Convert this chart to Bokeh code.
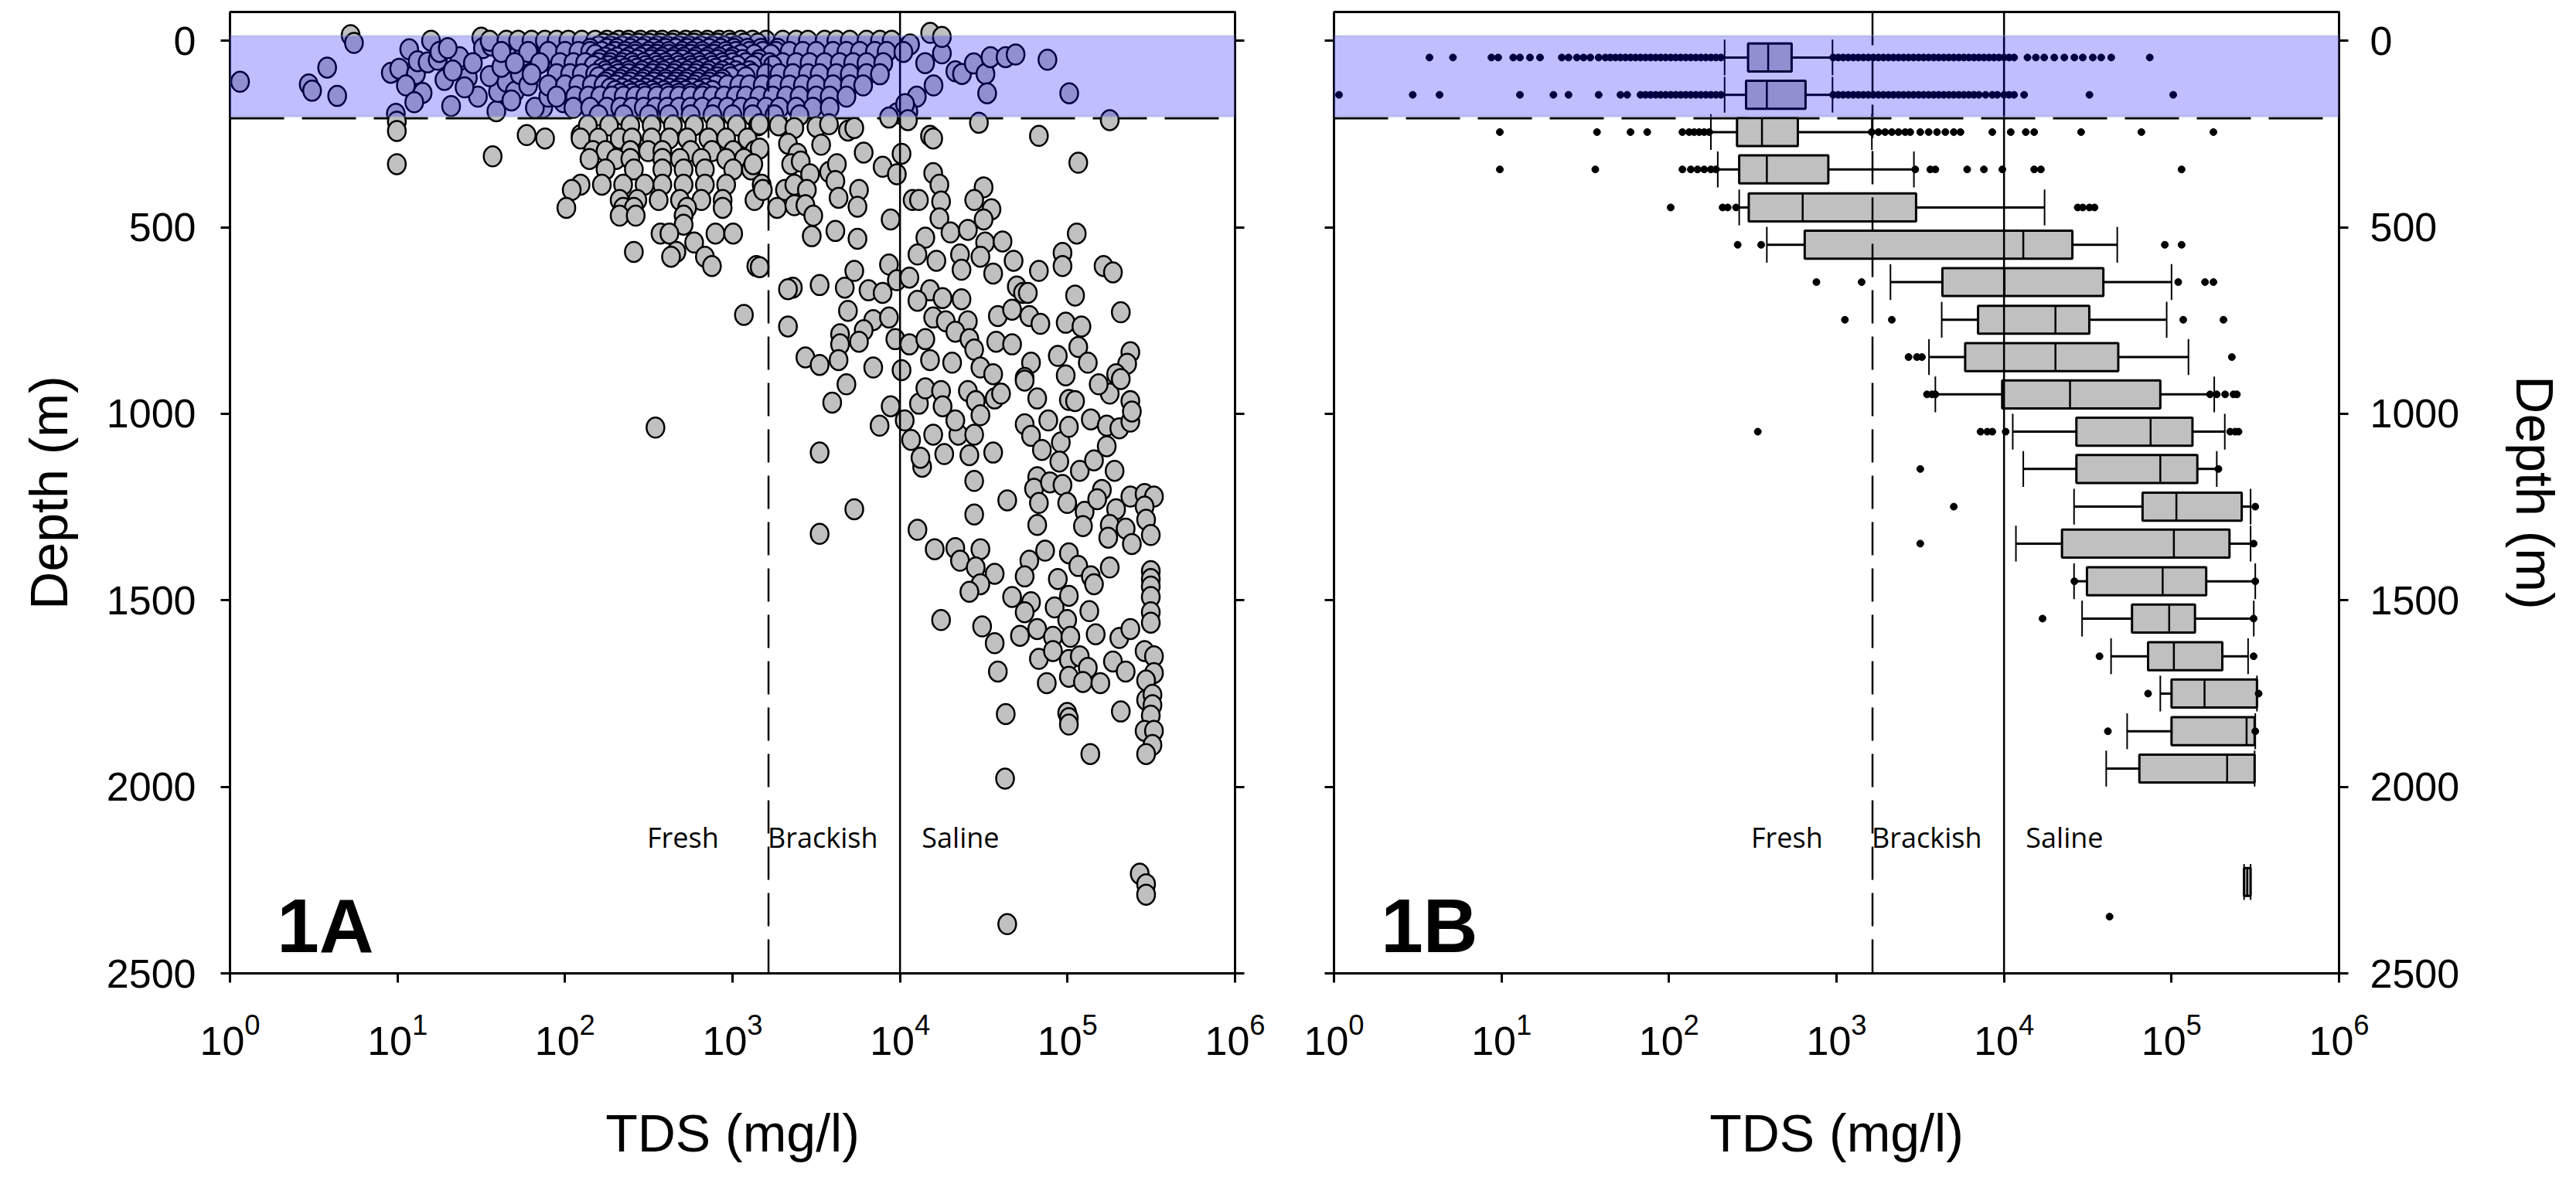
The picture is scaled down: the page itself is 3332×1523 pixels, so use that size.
from bokeh.plotting import figure
from bokeh.models import Range1d, FixedTicker, LinearAxis, Span, BoxAnnotation, Label
from bokeh.layouts import row
from bokeh.embed import file_html
from bokeh.resources import INLINE
from bokeh.core.properties import value

# ---------------- data ----------------
depth_ticks = [0, 500, 1000, 1500, 2000, 2500]
tds_ticks = [1, 10, 100, 1000, 10000, 100000, 1000000]
class_labels = ["Fresh", "Brackish", "Saline"]
class_label_log_tds = [2.49, 3.21, 4.13]
class_label_depth = 2135
brackish_limit = 1640      # mg/l
saline_limit = 10000       # mg/l
band_top, band_bottom = -13, 203
band_edge_depth = 208
panel_labels = ["1A", "1B"]

# --- Fig 1A: individual wells, (log10 TDS, depth m) ---
wells_band_sparse = [
    (0.06, 110), (0.47, 117), (0.49, 134), (0.58, 72), (0.64, 148), (0.72, -15), (0.74, 6),
    (0.96, 86), (1.01, 75), (1.07, 23), (1.11, 89), (1.12, 55), (1.18, 58), (1.20, 0),
    (1.24, 51), (1.25, 30), (0.99, 196), (1.32, 175), (1.37, 44), (1.42, 99), (1.50, -8),
    (1.51, 20), (1.56, 13), (1.59, 189), (1.60, 137), (1.65, 110), (1.70, 137), (1.67, 20),
    (1.73, 89), (1.79, 13), (1.84, 55), (1.87, 179), (1.92, 6), (1.99, 165), (2.01, 96),
    (1.05, 120), (1.15, 140), (1.28, 105), (1.33, 80), (1.45, 60), (1.48, 150), (1.55, 95),
    (1.62, 70), (1.68, 160), (1.75, 40), (1.78, 120), (1.82, 180), (1.90, 150), (1.95, 75),
    (1.40, 125), (1.30, 20), (1.10, 165),
    (4.18, -21), (4.25, 34), (4.33, 82), (4.37, 89), (4.44, 61), (4.51, 89), (4.54, 44),
    (4.63, 44), (4.69, 37), (4.88, 51), (4.52, 141), (5.01, 141), (4.10, 150), (4.05, 190),
    (4.20, 120), (4.15, 60), (4.06, 10), (4.25, -10), (3.98, 195), (4.03, 170),
]
band_row_depth = [0, 8, 15, 22, 30, 38, 45, 52, 60, 68, 75, 82, 90, 98, 105, 112, 120, 128,
                  135, 142, 150, 180, 200]
band_row_log_tds = [
    [1.55, 1.65, 1.72, 1.80, 1.88, 1.95, 2.02, 2.10, 2.18, 2.25, 2.32, 2.38, 2.45, 2.52, 2.58, 2.65,
     2.72, 2.78, 2.85, 2.92, 2.98, 3.05, 3.12, 3.20, 3.30, 3.38, 3.45, 3.55, 3.62, 3.70, 3.80, 3.88, 3.95],
    [2.23, 2.29, 2.37, 2.44, 2.50, 2.57, 2.64, 2.70, 2.77, 2.84, 2.91, 2.99, 3.07, 3.15],
    [2.20, 2.27, 2.34, 2.41, 2.48, 2.55, 2.61, 2.68, 2.74, 2.81, 2.88, 2.95, 3.02],
    [2.15, 2.25, 2.31, 2.39, 2.46, 2.53, 2.60, 2.66, 2.73, 2.79, 2.86, 2.93, 3.01, 3.09, 3.17, 3.27],
    [1.62, 1.78, 1.90, 2.00, 2.08, 2.15, 2.22, 2.30, 2.36, 2.42, 2.50, 2.56, 2.62, 2.70, 2.76, 2.82,
     2.90, 2.96, 3.02, 3.10, 3.18, 3.26, 3.34, 3.42, 3.50, 3.60, 3.68, 3.76, 3.85, 3.92, 4.02],
    [2.18, 2.27, 2.35, 2.42, 2.49, 2.55, 2.62, 2.69, 2.75, 2.82, 2.89, 2.97, 3.05, 3.13, 3.23],
    [2.24, 2.31, 2.38, 2.45, 2.52, 2.58, 2.65, 2.71, 2.78, 2.85, 2.92, 3.00],
    [2.21, 2.28, 2.36, 2.43, 2.51, 2.57, 2.64, 2.70, 2.77, 2.84, 2.91, 2.99, 3.06, 3.16],
    [1.70, 1.85, 1.97, 2.05, 2.12, 2.20, 2.27, 2.34, 2.40, 2.47, 2.54, 2.60, 2.67, 2.74, 2.80, 2.87,
     2.94, 3.00, 3.08, 3.15, 3.22, 3.30, 3.38, 3.46, 3.55, 3.64, 3.72, 3.80, 3.90],
    [2.17, 2.26, 2.33, 2.41, 2.48, 2.55, 2.61, 2.68, 2.75, 2.81, 2.88, 2.95, 3.03, 3.12, 3.24],
    [2.22, 2.29, 2.36, 2.43, 2.50, 2.57, 2.63, 2.70, 2.76, 2.83, 2.90, 2.98],
    [2.24, 2.31, 2.38, 2.46, 2.53, 2.59, 2.66, 2.73, 2.79, 2.86, 2.94, 3.02, 3.10],
    [1.80, 1.95, 2.03, 2.10, 2.18, 2.25, 2.32, 2.38, 2.45, 2.52, 2.58, 2.65, 2.72, 2.78, 2.85, 2.92,
     2.98, 3.05, 3.12, 3.20, 3.28, 3.36, 3.45, 3.52, 3.62, 3.70, 3.80, 3.88],
    [2.20, 2.28, 2.35, 2.42, 2.49, 2.56, 2.63, 2.69, 2.76, 2.83, 2.91, 2.99, 3.08],
    [2.26, 2.33, 2.40, 2.47, 2.54, 2.60, 2.67, 2.73, 2.80, 2.87, 2.94],
    [2.24, 2.32, 2.39, 2.46, 2.53, 2.60, 2.66, 2.72, 2.79, 2.86, 2.93],
    [1.90, 2.00, 2.08, 2.16, 2.23, 2.30, 2.37, 2.44, 2.50, 2.57, 2.64, 2.70, 2.77, 2.84, 2.90, 2.97,
     3.04, 3.10, 3.18, 3.26, 3.34, 3.42, 3.50, 3.60, 3.70, 3.78],
    [2.27, 2.34, 2.41, 2.48, 2.55, 2.62, 2.69, 2.76, 2.84],
    [2.30, 2.38, 2.45, 2.52, 2.59, 2.66, 2.72, 2.80, 2.88],
    [2.33, 2.40, 2.47, 2.54, 2.61, 2.68, 2.75, 2.83],
    [1.95, 2.06, 2.14, 2.21, 2.28, 2.35, 2.42, 2.48, 2.55, 2.62, 2.68, 2.75, 2.82, 2.88, 2.95, 3.02,
     3.08, 3.16, 3.24, 3.32, 3.40, 3.50, 3.58, 3.68],
    [2.05, 2.15, 2.25, 2.33, 2.40, 2.47, 2.54, 2.61, 2.68, 2.75, 2.82, 2.90, 2.97, 3.05, 3.12, 3.20,
     3.28, 3.38, 3.48, 3.58],
    [2.20, 2.35, 2.50, 2.62, 2.75, 2.88, 3.00, 3.12, 3.25, 3.40],
]
wells_fresh_cluster = [
    (0.996, 217), (0.996, 242), (0.996, 331), (1.771, 253), (1.881, 262), (1.568, 310), (2.093, 253),
    (2.136, 227), (2.263, 227), (2.390, 227), (2.517, 227), (2.644, 227), (2.771, 227), (2.898, 227),
    (3.025, 227), (3.153, 227),
    (2.093, 262), (2.199, 262), (2.326, 262), (2.400, 262), (2.517, 262), (2.623, 262), (2.729, 262),
    (2.856, 262), (2.962, 262), (3.089, 262),
    (2.167, 296), (2.242, 296), (2.390, 296), (2.496, 296), (2.581, 296), (2.750, 296), (2.877, 296),
    (3.004, 296), (3.131, 296),
    (2.146, 317), (2.305, 317), (2.390, 317), (2.581, 317), (2.686, 317), (2.814, 317), (2.962, 317),
    (3.068, 317),
    (2.242, 345), (2.411, 345), (2.581, 345), (2.708, 345), (2.835, 345), (3.004, 345), (3.110, 345),
    (2.093, 386), (2.220, 386), (2.347, 386), (2.475, 386), (2.581, 386), (2.708, 386), (2.835, 386),
    (2.962, 386), (3.174, 386), (2.040, 400),
    (2.326, 427), (2.432, 427), (2.559, 427), (2.686, 427), (2.814, 427), (2.941, 427), (3.131, 427),
    (2.008, 448), (2.347, 448), (2.411, 448), (2.729, 448), (2.941, 448),
    (2.326, 469), (2.422, 469), (2.708, 469), (2.708, 493),
    (2.570, 517), (2.623, 517), (2.898, 517), (3.004, 517), (2.771, 541), (2.411, 566), (2.665, 566),
    (2.633, 579), (2.835, 579), (2.877, 604), (3.142, 604), (3.068, 735), (2.54, 1037),
]
wells_upper_brackish_saline = [
    (3.162, 224), (3.275, 227), (3.369, 234), (3.501, 231), (3.576, 224), (3.689, 241), (3.727, 234),
    (3.934, 206), (4.047, 213), (4.179, 255), (4.198, 262), (4.471, 220), (4.829, 255), (5.252, 213),
    (5.064, 327), (3.162, 289), (3.124, 331), (3.331, 276), (3.388, 303), (3.529, 279), (3.350, 331),
    (3.407, 324), (3.463, 358), (3.576, 352), (3.623, 331), (3.614, 376), (3.783, 300), (3.896, 338),
    (3.981, 358), (4.009, 303), (3.181, 400), (3.313, 400), (3.369, 386), (3.444, 400), (3.266, 448),
    (3.369, 441), (3.435, 441), (3.482, 469), (3.633, 421), (3.755, 400), (3.746, 445), (3.944, 479),
    (4.075, 427), (4.113, 427), (4.198, 355), (4.235, 386), (4.245, 431), (4.235, 476), (4.499, 393),
    (4.443, 427), (4.546, 452), (4.499, 479), (3.473, 524), (3.614, 510), (3.746, 531), (4.151, 528),
    (4.301, 514), (4.405, 507), (4.508, 541), (4.612, 538), (4.104, 573), (4.217, 590), (4.358, 573),
    (4.480, 579), (4.367, 614), (4.556, 624), (4.678, 590), (4.829, 617), (4.970, 569), (4.970, 604),
    (5.055, 517), (5.215, 604), (5.271, 621), (3.162, 607), (3.360, 662), (3.331, 666), (3.520, 655),
    (3.670, 662), (3.727, 617), (3.812, 669), (3.896, 676), (3.934, 600), (3.981, 642), (4.056, 635),
    (4.179, 669), (4.254, 690), (4.367, 693), (4.104, 697), (4.697, 659), (4.734, 676), (4.763, 676),
    (5.045, 683), (5.318, 728), (3.331, 766), (3.689, 724), (3.840, 749), (3.934, 742), (3.783, 776),
    (3.642, 787), (3.642, 814), (3.755, 807), (3.972, 800), (4.056, 814), (4.151, 800), (4.198, 742),
    (4.273, 752), (4.405, 752), (4.330, 780), (4.414, 800), (4.584, 738), (4.669, 721), (4.772, 738),
    (4.838, 759), (4.989, 756), (5.083, 766), (4.443, 828), (4.574, 807), (4.669, 814), (4.782, 863),
    (4.942, 845), (5.064, 821), (5.121, 863), (5.375, 835), (5.356, 866), (5.290, 894), (3.435, 849),
    (3.520, 869), (3.633, 856), (3.840, 876), (4.009, 883), (4.179, 856), (4.311, 863), (4.480, 876),
    (4.556, 894), (4.744, 904), (4.989, 897),
]
wells_saline_mid = [
    (3.595, 970), (3.680, 921), (3.944, 980), (3.878, 1032), (4.028, 1018), (4.066, 1070), (4.113, 973),
    (4.151, 932), (4.245, 939), (4.254, 980), (4.198, 1056), (4.348, 1056), (4.330, 1018), (4.443, 1056),
    (4.405, 939), (4.452, 966), (4.480, 1004), (4.565, 959), (4.603, 946), (4.264, 1108), (4.414, 1111),
    (4.556, 1104), (4.132, 1142), (4.122, 1118), (4.744, 911), (4.819, 959), (4.885, 1018), (5.008, 963),
    (5.045, 966), (4.744, 1028), (4.782, 1059), (4.847, 1097), (4.960, 1077), (5.008, 1035),
    (5.139, 1015), (5.234, 1032), (5.309, 1039), (5.375, 966), (5.375, 1021), (5.384, 994),
    (5.252, 946), (5.318, 907), (5.186, 921), (4.951, 1128), (5.073, 1153), (5.281, 1153),
    (5.158, 1125), (5.234, 1087), (3.520, 1104), (3.727, 1256), (3.520, 1322), (4.443, 1180),
    (4.640, 1232), (4.443, 1270), (4.104, 1311), (4.207, 1363), (4.330, 1360), (4.480, 1363),
    (4.358, 1394), (4.452, 1412), (4.565, 1429), (4.480, 1457), (4.414, 1477), (4.819, 1170),
    (4.800, 1201), (4.895, 1184), (4.970, 1191), (4.829, 1239), (4.819, 1298), (4.998, 1239),
    (5.102, 1263), (5.092, 1301), (5.205, 1204), (5.177, 1229), (5.290, 1256), (5.252, 1298),
    (5.347, 1308), (5.375, 1222), (5.460, 1215), (5.516, 1222), (5.460, 1249), (5.469, 1284),
    (5.497, 1325), (5.384, 1349), (5.243, 1332), (4.866, 1367), (4.772, 1394), (4.744, 1436),
    (4.942, 1443), (5.008, 1374), (5.064, 1408), (5.139, 1436), (5.158, 1457), (5.252, 1412),
    (5.497, 1422), (5.497, 1443), (5.497, 1463), (5.497, 1491), (5.497, 1532), (5.497, 1560),
]
wells_saline_deep = [
    (4.669, 1491), (4.782, 1505), (4.744, 1532), (4.923, 1519), (5.008, 1488), (4.998, 1553),
    (5.130, 1529), (4.490, 1570), (4.565, 1615), (4.716, 1595), (4.819, 1577), (4.913, 1598),
    (5.017, 1598), (5.168, 1591), (5.309, 1601), (5.375, 1577), (4.245, 1553), (4.829, 1657),
    (4.913, 1636), (5.008, 1660), (5.073, 1650), (5.121, 1681), (4.876, 1722), (5.008, 1705),
    (5.092, 1719), (5.196, 1722), (5.271, 1664), (5.347, 1691), (5.460, 1636), (5.516, 1650),
    (5.516, 1695), (5.469, 1715), (4.584, 1691), (4.631, 1805), (4.998, 1802), (5.008, 1816),
    (5.008, 1833), (5.318, 1798), (5.469, 1767), (5.507, 1753), (5.507, 1781), (5.497, 1809),
    (5.460, 1850), (5.516, 1850), (5.507, 1888), (5.469, 1912), (5.136, 1912), (4.627, 1978),
    (5.431, 2233), (5.469, 2261), (5.469, 2289), (4.640, 2368),
]

# --- Fig 1B: box plots per 100 m depth bin (log10 TDS) ---
box_depth = [45, 145, 245, 345, 447, 547, 647, 748, 848, 948, 1048, 1148, 1249, 1348, 1449,
             1549, 1650, 1750, 1851, 1951, 2255]
box_whisker_low = [2.332, 2.332, 2.250, 2.291, 2.419, 2.584, 3.322, 3.628, 3.552, 3.590, 4.052,
                   4.115, 4.418, 4.071, 4.418, 4.466, 4.639, 4.933, 4.735, 4.610, 5.433]
box_q1 = [2.472, 2.460, 2.406, 2.419, 2.476, 2.810, 3.632, 3.845, 3.768, 3.989, 4.432, 4.432,
          4.827, 4.346, 4.495, 4.764, 4.860, 5.000, 5.000, 4.808, 5.433]
box_median = [2.592, 2.584, 2.555, 2.584, 2.798, 4.115, 4.003, 4.307, 4.307, 4.394, 4.875, 4.933,
              5.029, 5.014, 4.947, 4.986, 5.014, 5.197, 5.448, 5.332, 5.452]
box_q3 = [2.732, 2.815, 2.769, 2.951, 3.475, 4.408, 4.593, 4.509, 4.682, 4.933, 5.125, 5.154,
          5.419, 5.346, 5.207, 5.140, 5.303, 5.510, 5.496, 5.496, 5.472]
box_whisker_high = [2.976, 2.976, 3.211, 3.462, 4.242, 4.676, 5.000, 4.971, 5.101, 5.255, 5.318,
                    5.270, 5.472, 5.472, 5.500, 5.491, 5.457, 5.510, 5.500, 5.496, 5.472]
outlier_log_tds = [
    [0.57, 0.71, 0.94, 0.98, 1.07, 1.11, 1.17, 1.23, 1.36, 1.40, 1.45, 1.49, 1.53, 1.58,
     1.62, 1.65, 1.68, 1.71, 1.74, 1.77, 1.80, 1.83, 1.86, 1.89, 1.92, 1.95, 1.98, 2.01, 2.04, 2.07,
     2.10, 2.13, 2.16, 2.19, 2.22, 2.25, 2.28, 2.31,
     2.98, 3.01, 3.04, 3.07, 3.10, 3.13, 3.16, 3.19, 3.22, 3.25, 3.28, 3.31, 3.34, 3.37, 3.40, 3.43,
     3.46, 3.49, 3.52, 3.55, 3.58, 3.61, 3.64, 3.67, 3.70, 3.73, 3.76, 3.79, 3.82, 3.85, 3.88, 3.91,
     3.94, 3.97, 4.00, 4.03, 4.06, 4.14, 4.19, 4.24, 4.30, 4.36, 4.42, 4.47, 4.53, 4.58, 4.64, 4.87],
    [0.03, 0.47, 0.63, 1.11, 1.31, 1.40, 1.58, 1.71, 1.75,
     1.83, 1.86, 1.89, 1.92, 1.95, 1.98, 2.01, 2.04, 2.07, 2.10, 2.13, 2.16, 2.19, 2.22, 2.25, 2.28, 2.31,
     2.98, 3.01, 3.04, 3.07, 3.10, 3.13, 3.16, 3.19, 3.22, 3.25, 3.28, 3.31, 3.34, 3.37, 3.40, 3.43,
     3.46, 3.49, 3.52, 3.55, 3.58, 3.61, 3.64, 3.67, 3.70, 3.73, 3.76, 3.79, 3.82, 3.85, 3.89,
     3.93, 3.96, 4.00, 4.03, 4.06, 4.12, 4.51, 5.01],
    [0.99, 1.57, 1.77, 1.87, 2.08, 2.12, 2.15, 2.18, 2.21, 2.24,
     3.21, 3.25, 3.29, 3.33, 3.37, 3.41, 3.44, 3.50, 3.55, 3.60, 3.65, 3.70, 3.74, 3.93, 4.04, 4.13,
     4.18, 4.46, 4.82, 5.25],
    [0.99, 1.56, 2.08, 2.13, 2.17, 2.21, 2.25, 2.28, 3.47, 3.56, 3.59, 3.78, 3.88, 3.99, 4.18, 4.22, 5.06],
    [2.01, 2.32, 2.35, 2.40, 4.44, 4.47, 4.51, 4.54],
    [2.41, 2.55, 4.96, 5.06],
    [2.88, 3.15, 5.04, 5.20, 5.25],
    [3.05, 3.33, 5.07, 5.31],
    [3.43, 3.48, 3.51, 5.36],
    [3.54, 3.57, 3.59, 5.23, 5.27, 5.32, 5.37, 5.39],
    [2.53, 3.86, 3.90, 3.93, 4.01, 5.35, 5.38, 5.40],
    [3.50, 5.28],
    [3.70, 5.50],
    [3.50, 5.49],
    [4.42, 5.50],
    [4.23, 5.49],
    [4.57, 5.49],
    [4.86, 5.52],
    [4.62, 5.50],
    [],
    [],
]
extra_outlier_depth = [2348]
extra_outlier_log_tds = [4.63]

# ---------------- helpers ----------------
FONT = "Liberation Sans"
W_FRAME, H_FRAME = 1300, 1244


def style_axis(ax, show_labels=True, standoff=30):
    ax.axis_line_width = 3
    ax.axis_line_color = "black"
    ax.major_tick_line_width = 3
    ax.major_tick_line_color = "black"
    ax.major_tick_out = 12
    ax.major_tick_in = 0
    ax.minor_tick_line_color = None
    ax.major_label_text_font = FONT
    ax.axis_label_text_font = FONT
    ax.axis_label_text_font_size = "68px"
    ax.axis_label_text_font_style = "normal"
    ax.axis_label_text_color = "black"
    if show_labels:
        ax.major_label_text_color = "black"
        ax.major_label_text_font_size = "52px"
        ax.major_label_standoff = standoff
    else:
        ax.major_label_text_color = None
        ax.major_label_text_alpha = 0
        ax.major_label_text_font_size = "2px"
        ax.major_label_standoff = 0


def make_fig(left_border, right_border, y_loc):
    p = figure(x_axis_type="log", x_range=Range1d(1, 1e6), y_range=Range1d(2500, -77),
               frame_width=W_FRAME, frame_height=H_FRAME,
               min_border_left=left_border, min_border_right=right_border,
               min_border_top=15, min_border_bottom=250,
               y_axis_location=y_loc, output_backend="svg", toolbar_location=None)
    p.grid.visible = False
    p.outline_line_color = "black"
    p.outline_line_width = 3
    p.background_fill_color = "white"
    p.border_fill_color = "white"
    p.xaxis.ticker = FixedTicker(ticks=tds_ticks)
    p.yaxis.ticker = FixedTicker(ticks=depth_ticks)
    p.xaxis.axis_label = "TDS (mg/l)"
    p.yaxis.axis_label = "Depth (m)"
    for ax in p.xaxis:
        style_axis(ax, True, 40)
        ax.axis_label_standoff = 60
    other = LinearAxis(ticker=FixedTicker(ticks=depth_ticks))
    style_axis(other, False)
    p.add_layout(other, "right" if y_loc == "left" else "left")
    # horizontal dashed line under the glyphs
    p.add_layout(Span(location=band_edge_depth, dimension="width", line_color="black",
                      line_width=3, line_dash="70 23", level="underlay"))
    return p


def decorate(p, panel_label):
    p.add_layout(Span(location=brackish_limit, dimension="height", line_color="black",
                      line_width=2.5, line_dash="43 17"))
    p.add_layout(Span(location=saline_limit, dimension="height", line_color="black",
                      line_width=2.5))
    p.text(x=[10 ** v for v in class_label_log_tds], y=[class_label_depth] * 3, text=class_labels,
           text_font=value("Open Sans"), text_font_size="36px", text_color="black",
           text_align="left", text_baseline="alphabetic")
    p.add_layout(Label(x=10 ** 0.28, y=2372, text=panel_label, text_font=FONT,
                       text_font_size="98px", text_font_style="bold", text_color="black",
                       text_baseline="alphabetic"))
    p.add_layout(BoxAnnotation(top=band_top, bottom=band_bottom, fill_color="#0000FF",
                               fill_alpha=0.25, line_color="#9696C8", line_width=3))


# ---------------- Fig 1A ----------------
p1 = make_fig(297, 68, "left")
for ax in p1.yaxis:
    if ax.axis_label == "Depth (m)":
        style_axis(ax, True, 32)
        ax.axis_label_standoff = 34

xs, ys = [], []
for lg, d in wells_band_sparse:
    xs.append(10 ** lg); ys.append(d)
for d, logs in zip(band_row_depth, band_row_log_tds):
    for lg in logs:
        xs.append(10 ** lg); ys.append(d)
for group in (wells_fresh_cluster, wells_upper_brackish_saline, wells_saline_mid, wells_saline_deep):
    for lg, d in group:
        xs.append(10 ** lg); ys.append(d)

p1.ellipse(x=xs, y=ys, width=23, height=26, width_units="screen", height_units="screen",
           fill_color="#C0C0C0", line_color="black", line_width=2.5)
decorate(p1, panel_labels[0])

# ---------------- Fig 1B ----------------
p2 = make_fig(60, 285, "right")
for ax in p2.yaxis:
    if ax.axis_label == "Depth (m)":
        style_axis(ax, True, 28)
        ax.axis_label_standoff = 57

lo = [10 ** v for v in box_whisker_low]
q1 = [10 ** v for v in box_q1]
md = [10 ** v for v in box_median]
q3 = [10 ** v for v in box_q3]
hi = [10 ** v for v in box_whisker_high]
half_box, half_cap = 37.5, 48

p2.segment(x0=lo, y0=box_depth, x1=q1, y1=box_depth, line_color="black", line_width=3)
p2.segment(x0=q3, y0=box_depth, x1=hi, y1=box_depth, line_color="black", line_width=3)
p2.segment(x0=lo, y0=[d - half_cap for d in box_depth], x1=lo, y1=[d + half_cap for d in box_depth],
           line_color="black", line_width=2)
p2.segment(x0=hi, y0=[d - half_cap for d in box_depth], x1=hi, y1=[d + half_cap for d in box_depth],
           line_color="black", line_width=2)
p2.quad(left=q1, right=q3, top=[d - half_box for d in box_depth],
        bottom=[d + half_box for d in box_depth], fill_color="#C0C0C0", line_color="black",
        line_width=3)
p2.segment(x0=md, y0=[d - half_box for d in box_depth], x1=md, y1=[d + half_box for d in box_depth],
           line_color="black", line_width=2.5)

ox, oy = [], []
for d, vals in zip(box_depth, outlier_log_tds):
    for lg in vals:
        ox.append(10 ** lg); oy.append(d)
for d, lg in zip(extra_outlier_depth, extra_outlier_log_tds):
    ox.append(10 ** lg); oy.append(d)
p2.scatter(x=ox, y=oy, marker="circle", size=9, fill_color="black", line_color="black")
decorate(p2, panel_labels[1])

layout = row(p1, p2, spacing=0)
open("out.html", "w").write(file_html(layout, INLINE))
